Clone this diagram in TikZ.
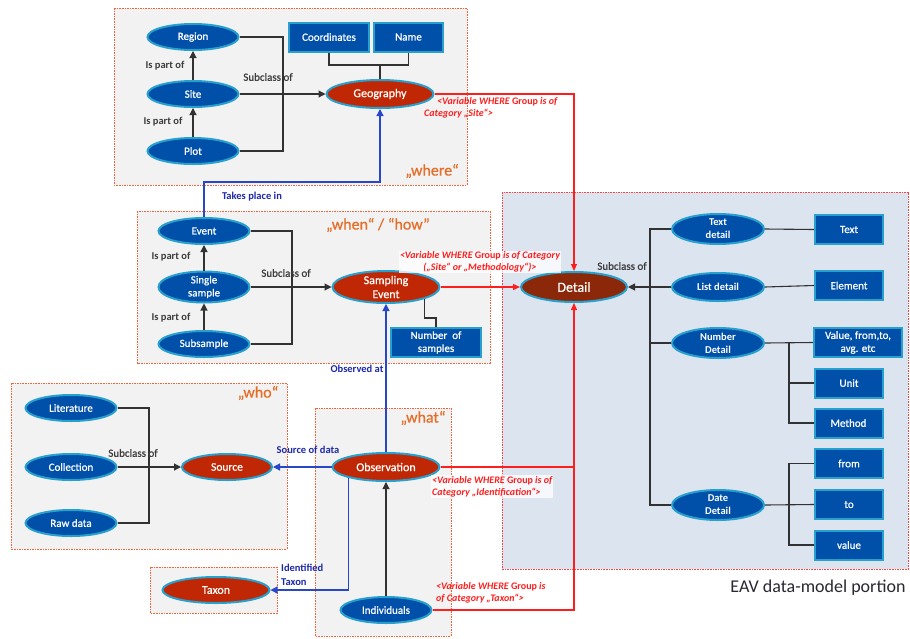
\documentclass[tikz,border=0pt]{standalone}
\usepackage{fontspec}
\setmainfont{Carlito}
\newfontfamily\semib[FakeBold=0.7]{Carlito}
\usetikzlibrary{shapes.geometric,arrows.meta,calc}
\definecolor{nodeblue}{RGB}{0,80,170}
\definecolor{rimblue}{RGB}{40,160,205}
\definecolor{nodered}{RGB}{192,40,5}
\definecolor{detailred}{RGB}{140,40,10}
\definecolor{grpgray}{RGB}{242,242,242}
\definecolor{grpline}{RGB}{240,100,60}
\definecolor{eavfill}{RGB}{220,228,240}
\definecolor{eavline}{RGB}{240,70,70}
\definecolor{relred}{RGB}{255,30,30}
\definecolor{relblue}{RGB}{40,70,200}
\definecolor{lblblue}{RGB}{30,40,170}
\definecolor{orangelbl}{RGB}{230,110,40}
\definecolor{conn}{RGB}{50,50,50}
\definecolor{lblgray}{RGB}{60,60,60}
\definecolor{eavtext}{RGB}{40,40,50}
\begin{document}
\begin{tikzpicture}[x=1pt,y=-1pt,
  be/.style={ellipse,fill=nodeblue,draw=rimblue,line width=2pt,text=white,inner sep=0pt,
     minimum width=91pt,minimum height=26pt,align=center,font=\fontsize{11}{13}\selectfont\semib},
  bed/.style={be,minimum width=92pt,minimum height=30pt,inner ysep=-5pt,font=\fontsize{10.5}{13}\selectfont\bfseries},
  re/.style={be,fill=nodered,minimum width=107pt,minimum height=28pt,font=\fontsize{12}{14}\selectfont\semib},
  bb/.style={rectangle,fill=nodeblue,draw=rimblue,line width=2pt,text=white,inner sep=0pt,
     minimum width=68pt,minimum height=29pt,align=center,font=\fontsize{11}{13}\selectfont\semib},
  grp/.style={draw=grpline,fill=grpgray,line width=0.8pt,dash pattern=on 1.6pt off 1pt},
  eav/.style={draw=eavline,fill=eavfill,line width=0.8pt,dash pattern=on 1.6pt off 1pt},
  cl/.style={draw=conn,line width=1.1pt},
  arr/.style={cl,-{Triangle[length=7pt,width=7pt]}},
  rl/.style={draw=relred,line width=1.1pt},
  rarr/.style={rl,-{Triangle[length=7pt,width=6pt]}},
  bl/.style={draw=relblue,line width=1.3pt},
  barr/.style={bl,-{Triangle[length=7pt,width=7pt]}},
  lbl/.style={text=lblgray,font=\fontsize{10.5}{12}\selectfont\bfseries,inner sep=0pt},
  slbl/.style={text=lblgray,font=\fontsize{11}{12}\selectfont\semib,inner sep=0pt},
  blbl/.style={text=lblblue,font=\fontsize{10.5}{14}\selectfont\bfseries,inner sep=0pt,align=left},
  olbl/.style={text=orangelbl,font=\fontsize{16}{18}\selectfont\semib,inner sep=0pt},
  rlbl/.style={text=relred,font=\fontsize{10}{12}\selectfont\bfseries\itshape,align=left,inner sep=1pt}
]
\useasboundingbox (0,0) rectangle (910,638);
\fill[white] (0,0) rectangle (910,638);
% group boxes
\path[grp] (114,8) rectangle (467,185);
\path[grp] (137,211) rectangle (490,363);
\path[grp] (11,383) rectangle (287,549);
\path[grp] (315,408) rectangle (451,636);
\path[grp] (150,567) rectangle (277,613);
\path[eav] (502,192) rectangle (908,569);

% ---------- where ----------
\node[be] (region) at (193,37) {Region};
\node[be] (site) at (193,94) {Site};
\node[be] (plot) at (193,151) {Plot};
\node[re] (geo) at (380,94) {Geography};
\node[bb,minimum width=80pt] (coord) at (329,37) {Coordinates};
\node[bb,minimum width=69pt] (name) at (408.5,37) {Name};
\coordinate (gj) at (380,65);
\draw[cl] (coord.south) |- (gj) -| (name.south);
\draw[cl] (gj) -- (geo.north);
\draw[arr] (site.north) -- (region.south);
\draw[arr] (plot.north) -- (site.south);
\coordinate (wx) at (283,94);
\draw[cl] (region.east) -| (wx);
\draw[cl] (plot.east) -| (wx);
\draw[arr] (site.east) -- (geo.west);
\node[lbl] (w1) at (165,66) {Is part of};
\node[lbl] (w2) at (163,122) {Is part of};
\node[slbl] (w3) at (268,77) {Subclass of};
\node[olbl] (wherel) at (432,171) {„where“};

% ---------- when / how ----------
\node[be] (event) at (204,231) {Event};
\node[be,minimum height=31pt,inner ysep=-5pt] (single) at (204,287) {Single\\sample};
\node[be] (subsample) at (204,344) {Subsample};
\node[re,minimum height=32pt,inner ysep=-5pt] (sev) at (386,287) {Sampling\\Event};
\node[bb,minimum width=90pt] (nsamp) at (436,342.5) {Number\ \ of\\samples};
\coordinate (nj) at (436,318);
\draw[cl] (sev.-17) |- (nj) -- (nsamp.north);
\coordinate (hx) at (292,287);
\draw[cl] (event.east) -| (hx);
\draw[cl] (subsample.east) -| (hx);
\draw[arr] (single.east) -- (sev.west);
\draw[arr] (single.north) -- (event.south);
\draw[arr] (subsample.north) -- (single.south);
\node[lbl] (h1) at (171,257) {Is part of};
\node[lbl] (h2) at (171,318) {Is part of};
\node[slbl] (h3) at (286,273) {Subclass of};
\node[olbl] (whenl) at (378,225) {„when“ / “how”};
\coordinate (tp) at (204,182);
\draw[barr] (event.north) -- (tp) -| (geo.south);
\node[blbl] (tpl) at (252,197) {Takes place in};

% ---------- detail ----------
\node[re,fill=detailred,minimum width=106pt,minimum height=30pt,font=\fontsize{14}{16}\selectfont\semib] (detail) at (574,287) {Detail};

% ---------- what ----------
\node[re] (obs) at (386,467) {Observation};
\node[be] (indiv) at (386,610) {Individuals};
\draw[arr] (indiv.north) -- (obs.south);
\draw[barr] (obs.north) -- (sev.south);
\node[blbl] (oal) at (357,369) {Observed at};
\node[olbl] (whatl) at (423,418) {„what“};

% ---------- who ----------
\node[be] (lit) at (71,408) {Literature};
\node[be] (coll) at (71,467) {Collection};
\node[be] (raw) at (71,523) {Raw data};
\node[re,minimum width=90pt,minimum height=26pt,font=\fontsize{11.5}{14}\selectfont\semib] (source) at (227,467) {Source};
\coordinate (sx) at (149,467);
\draw[cl] (lit.east) -| (sx);
\draw[cl] (raw.east) -| (sx);
\draw[arr] (coll.east) -- (source.west);
\node[slbl] (s1) at (133,453) {Subclass of};
\node[olbl] (whol) at (258,393) {„who“};
\draw[barr] (obs.west) -- (source.east);
\node[blbl] (sdl) at (308,450) {Source of data};

% ---------- taxon ----------
\node[re,minimum height=26pt] (taxon) at (216,590) {Taxon};
\draw[barr] (obs.196) |- (taxon.east);
\node[blbl,anchor=west] (itl) at (281,575) {Identified\\Taxon};

% ---------- red relations ----------
\draw[rarr] (geo.east) -| (detail.north);
\draw[rarr] (sev.east) -- (sev.east -| detail.west);
\coordinate (rj) at (574,467);
\draw[rl] (indiv.east) -| (rj);
\draw[rarr] (obs.east) -| (detail.south);
\node[rlbl,anchor=north west] (gl) at (423,96) {\hspace*{13pt}<Variable WHERE {\upshape Group} is of\\Category „Site“>};
\node[rlbl,align=center,fill=white,fill opacity=0.75,text opacity=1] (sl) at (480,262) {<Variable WHERE {\upshape Group} is of Category\\(„Site“ or „Methodology“)>};
\node[rlbl,anchor=north west,fill=white,fill opacity=0.75,text opacity=1] (il) at (431,475) {<Variable WHERE {\upshape Group} is of\\Category „Identification“>};
\node[rlbl,anchor=north west] (tl) at (435,581) {<Variable WHERE {\upshape Group} is\\of Category „Taxon“>};

% ---------- EAV ----------
\node[bed] (textd) at (718,229) {Text\\detail};
\node[bed,minimum height=28pt] (listd) at (718,287) {List detail};
\node[bed] (numd) at (718,343) {Number\\Detail};
\node[bed] (dated) at (718,505) {Date\\Detail};
\coordinate (ex) at (650,287);
\draw[cl] (textd.west) -| (ex) |- (dated.west);
\draw[cl] (numd.west) -- (numd.west -| ex);
\draw[arr] (listd.west) -- (detail.east);
\node[slbl] (e1) at (622,266) {Subclass of};
\node[bb] (textb) at (849,229.5) {Text};
\node[bb] (elemb) at (849,285.5) {Element};
\node[bb,minimum width=88pt] (valb) at (858,342.5) {Value, from,to,\\avg. etc};
\node[bb] (unitb) at (849,383) {Unit};
\node[bb] (methb) at (848.5,423) {Method};
\node[bb] (fromb) at (849,463.5) {from};
\node[bb] (tob) at (849,504.5) {to};
\node[bb] (valueb) at (849,545) {value};
\draw[cl] (textd.east) -- (textb.west);
\draw[cl] (listd.east) -- (elemb.west);
\draw[cl] (numd.east) -- (valb.west);
\coordinate (nx) at (789,343);
\draw[cl] (nx) |- (unitb.west);
\draw[cl] (nx) |- (methb.west);
\draw[cl] (dated.east) -- (tob.west);
\coordinate (dx) at (789,505);
\draw[cl] (dx) |- (fromb.west);
\draw[cl] (dx) |- (valueb.west);
\node[text=eavtext,font=\fontsize{18}{20}\selectfont,inner sep=0pt] (eavl) at (818,588) {EAV data-model portion};
\end{tikzpicture}
\end{document}
